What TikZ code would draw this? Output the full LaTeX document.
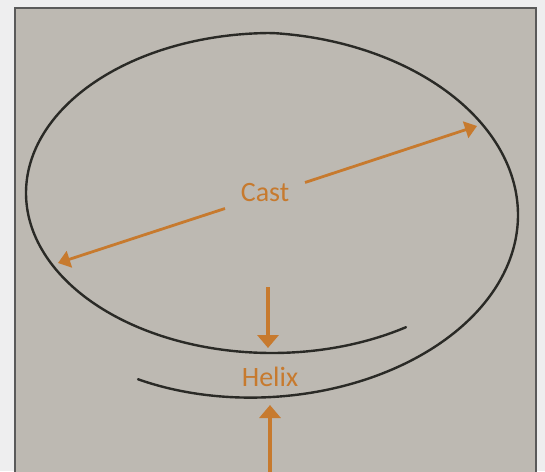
\documentclass[tikz,border=0pt]{standalone}
\usepackage{fontspec}
\setmainfont{Carlito}
\usetikzlibrary{arrows.meta}
\definecolor{bgpaper}{HTML}{BDB9B2}
\definecolor{margin}{HTML}{EEEEEF}
\definecolor{framec}{HTML}{5A5A5A}
\definecolor{orangec}{HTML}{C77A2E}
\definecolor{inkc}{HTML}{2A2A26}
\tikzset{
  curve/.style={draw=inkc, line width=2.4pt, line cap=round},
  castarrow/.style={draw=orangec, line width=2.8pt, -{Triangle[length=12pt,width=17pt]}},
  vertarrow/.style={draw=orangec, line width=3.4pt, -{Triangle[length=13pt,width=21pt]}},
  lbl/.style={text=orangec, font=\fontsize{28}{32}\selectfont, inner sep=0pt}
}
\begin{document}
\begin{tikzpicture}[x=1pt,y=-1pt]
\useasboundingbox (0,0) rectangle (545,471);
\fill[margin] (0,0) rectangle (545,471);
\fill[bgpaper] (15,8) rectangle (536,480);
\draw[framec, line width=1.5pt] (15,480) -- (15,8) -- (536,8) -- (536,480);
% spiral curve (one continuous line)
\draw[curve] plot[domain=57:483, samples=240, smooth, variable=\t]
  ({272+246*cos(\t)}, {193 + max(0,\t-270)*44/180 + 160*sin(\t)});
% labels
\node[lbl] (cast) at (265,193) {Cast};
\node[lbl] (helix) at (270,377) {Helix};
% cast arrows
\coordinate (cL) at (225,208.5);
\coordinate (tipL) at (58,263);
\coordinate (cR) at (305,182.5);
\coordinate (tipR) at (477,126);
\draw[castarrow] (cL) -- (tipL);
\draw[castarrow] (cR) -- (tipR);
% vertical arrows
\coordinate (dTop) at (268,287);
\coordinate (dTip) at (268,348);
\coordinate (uBot) at (270,475);
\coordinate (uTip) at (270,405);
\draw[vertarrow] (dTop) -- (dTip);
\draw[vertarrow] (uBot) -- (uTip);
\end{tikzpicture}
\end{document}
